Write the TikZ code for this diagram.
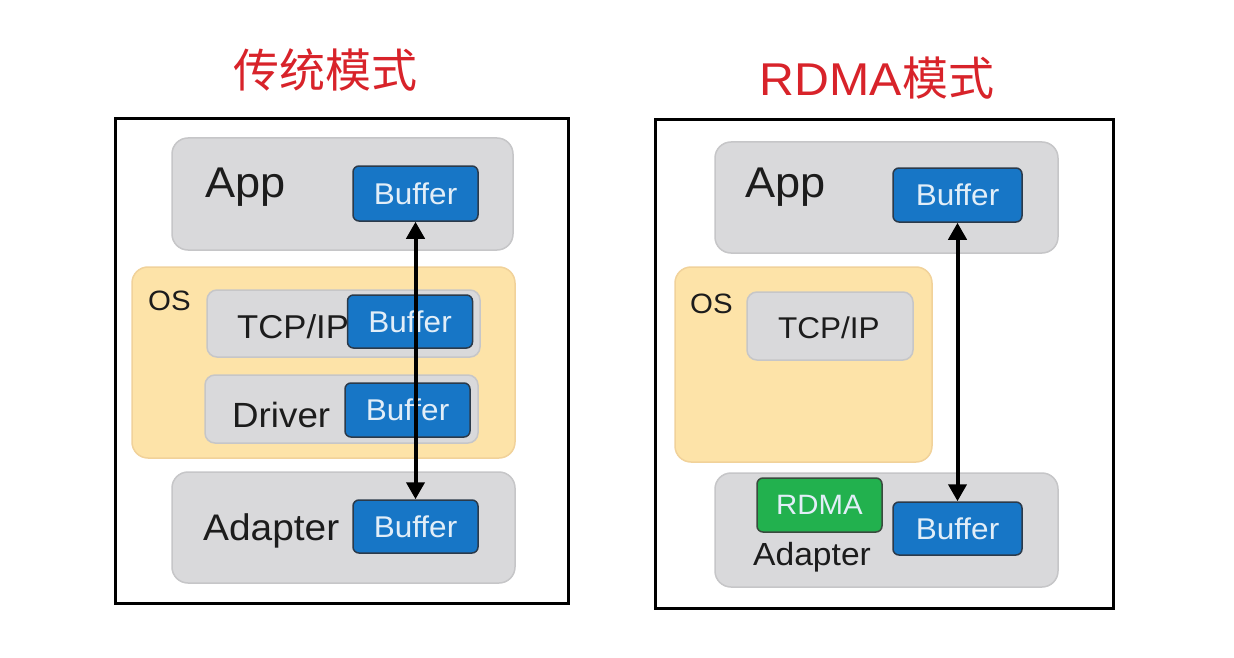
\documentclass[tikz,border=0pt]{standalone}
\usepackage{fontspec}
\setmainfont[FakeStretch=1.05]{Liberation Sans}
\newfontfamily\cjk{Noto Sans CJK SC}
\usetikzlibrary{arrows.meta}

\definecolor{layerfill}{HTML}{D9D9DB}
\definecolor{layerline}{HTML}{C6C6C8}
\definecolor{osfill}{HTML}{FDE3A8}
\definecolor{osline}{HTML}{F1D29A}
\definecolor{buffill}{HTML}{1776C6}
\definecolor{bufline}{HTML}{2B3A4A}
\definecolor{buftext}{HTML}{E2EEF8}
\definecolor{rdmafill}{HTML}{22B14E}
\definecolor{rdmaline}{HTML}{3A4A3E}
\definecolor{titlered}{HTML}{D8232A}
\definecolor{ink}{HTML}{1C1C1C}

\newcommand{\fs}[1]{\fontsize{#1}{#1}\selectfont}

\tikzset{
  frame/.style={draw=black, line width=3pt},
  layer/.style={draw=layerline, fill=layerfill, line width=1.5pt, rounded corners=16pt, inner sep=0pt},
  osbox/.style={draw=osline, fill=osfill, line width=1.5pt, rounded corners=16pt, inner sep=0pt},
  sublayer/.style={draw=layerline, fill=layerfill, line width=1.5pt, rounded corners=10pt, inner sep=0pt},
  buf/.style={draw=bufline, fill=buffill, line width=1.5pt, rounded corners=6pt, inner sep=0pt,
    text=buftext, font=\fs{30}, minimum width=125pt, minimum height=55pt},
  rdma/.style={draw=rdmaline, fill=rdmafill, line width=1.5pt, rounded corners=6pt, inner sep=0pt,
    text=buftext, font=\fs{28}, minimum width=125pt, minimum height=54pt},
  lbl/.style={text=ink, inner sep=0pt, anchor=base west},
  title/.style={text=titlered, inner sep=0pt},
  link/.style={line width=4pt, {Triangle[length=17pt,width=18pt]}-{Triangle[length=17pt,width=18pt]}}
}

\begin{document}
\begin{tikzpicture}[x=1pt,y=-1pt]
  \useasboundingbox (0,0) rectangle (1234,658);
  \fill[white] (0,0) rectangle (1234,658);

  % titles
  \node[title, font=\cjk\fs{46}] (titleL) at (325,70) {传统模式};
  \node[title, font=\fs{46}] (titleR) at (877,78) {RDMA{\cjk 模式}};

  % traditional mode
  \node[frame, minimum width=453pt, minimum height=485pt] (frameL) at (341.5,361) {};
  \node[layer, minimum width=341pt, minimum height=112pt] (appL) at (342.5,194) {};
  \node[lbl, font=\fs{43}] (appTxtL) at (205,197) {App};
  \node[buf] (appBufL) at (415.5,193.5) {Buffer};
  \node[osbox, minimum width=383pt, minimum height=191pt] (osL) at (323.5,362.5) {};
  \node[lbl, font=\fs{28}] (osTxtL) at (148,310) {OS};
  \node[sublayer, minimum width=273pt, minimum height=67pt] (tcpL) at (343.5,323.5) {};
  \node[lbl, font=\fs{33}] (tcpTxtL) at (237,338) {TCP/IP};
  \node[buf, minimum height=53pt] (tcpBufL) at (410,321.5) {Buffer};
  \node[sublayer, minimum width=273pt, minimum height=68pt] (drvL) at (341.5,409) {};
  \node[lbl, font=\fs{35}] (drvTxtL) at (232,427) {Driver};
  \node[buf, minimum height=54pt] (drvBufL) at (407.5,410) {Buffer};
  \node[layer, minimum width=343pt, minimum height=111pt] (adpL) at (343.5,527.5) {};
  \node[lbl, font=\fs{37}] (adpTxtL) at (203,540) {Adapter};
  \node[buf, minimum height=53pt] (adpBufL) at (415.5,526.5) {Buffer};
  \draw[link] (appBufL.south) -- (adpBufL.north);

  % RDMA mode
  \node[frame, minimum width=458pt, minimum height=488pt] (frameR) at (884,364) {};
  \node[layer, minimum width=343pt, minimum height=111pt] (appR) at (886.5,197.5) {};
  \node[lbl, font=\fs{43}] (appTxtR) at (745,197) {App};
  \node[buf, minimum width=129pt, minimum height=54pt] (appBufR) at (957.5,195) {Buffer};
  \node[osbox, minimum width=257pt, minimum height=195pt] (osR) at (803.5,364.5) {};
  \node[lbl, font=\fs{28}] (osTxtR) at (690,313) {OS};
  \node[sublayer, minimum width=166pt, minimum height=68pt] (tcpR) at (830,326) {};
  \node[lbl, font=\fs{30}] (tcpTxtR) at (778,338) {TCP/IP};
  \node[layer, minimum width=343pt, minimum height=114pt] (adpR) at (886.5,530) {};
  \node[rdma] (rdmaR) at (819.5,505) {RDMA};
  \node[lbl, font=\fs{32}] (adpTxtR) at (753,565) {Adapter};
  \node[buf, minimum width=129pt, minimum height=53pt] (adpBufR) at (957.5,528.5) {Buffer};
  \draw[link] (appBufR.south) -- (adpBufR.north);
\end{tikzpicture}
\end{document}
